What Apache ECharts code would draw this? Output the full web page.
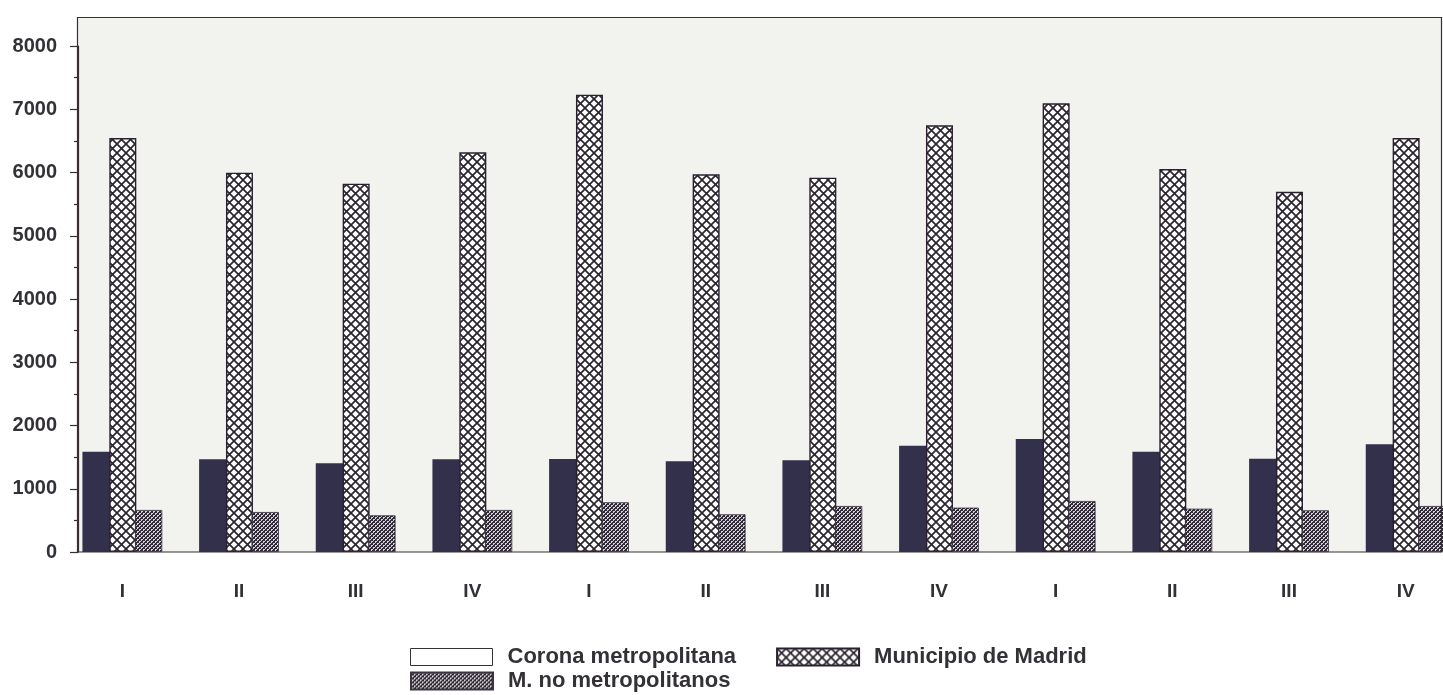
<!DOCTYPE html>
<html>
<head>
<meta charset="utf-8">
<script src="https://cdn.jsdelivr.net/npm/echarts@6/dist/echarts.min.js"></script>
<style>
html,body{margin:0;padding:0;background:#fff;}
#chart{width:1443px;height:695px;}
</style>
</head>
<body>
<div id="chart"></div>
<script>
// ---- data ----
const quarters = ['I','II','III','IV','I','II','III','IV','I','II','III','IV'];
const seriesNames = ['Corona metropolitana','Municipio de Madrid','M. no metropolitanos'];
const corona  = [1586,1466,1402,1466,1470,1434,1450,1681,1787,1586,1475,1703];
const madrid  = [6545,5997,5823,6320,7230,5972,5918,6746,7094,6055,5696,6545];
const noMetro = [664,632,580,664,786,596,727,701,806,685,659,727];
const yTicks = { min: 0, max: 8000, interval: 1000 };

// ---- patterns ----
function crossPattern(){
  const s = 9, c = document.createElement('canvas');
  c.width = s; c.height = s;
  const g = c.getContext('2d');
  g.fillStyle = '#fdfdfb'; g.fillRect(0,0,s,s);
  g.strokeStyle = '#2a2530'; g.lineWidth = 1.7;
  g.beginPath();
  g.moveTo(-1,-1); g.lineTo(s+1,s+1);
  g.moveTo(s+1,-1); g.lineTo(-1,s+1);
  g.stroke();
  return c;
}
function dotPattern(){
  const s = 4, c = document.createElement('canvas');
  c.width = s; c.height = s;
  const g = c.getContext('2d');
  g.fillStyle = '#d8d6d6'; g.fillRect(0,0,s,s);
  g.fillStyle = '#2f2a36';
  for (let i = 0; i < s; i++){ g.fillRect(i,i,1,1); g.fillRect(s-1-i,i,1,1); }
  g.fillRect(0,2,1,1); g.fillRect(2,0,1,1);
  return c;
}

const chart = echarts.init(document.getElementById('chart'), null, {renderer:'canvas'});
const textColor = '#333036';
const frameColor = '#3a2e30';
const fontFam = 'Liberation Sans, Arial, sans-serif';

const option = {
  animation: false,
  backgroundColor: '#ffffff',
  grid: { left: 64, top: 46, width: 1400, bottom: 143, containLabel: false, outerBoundsMode: 'none' },
  graphic: [
    { type: 'rect', z: -10, silent: true,
      shape: { x: 78, y: 18, width: 1363, height: 534 },
      style: { fill: '#f2f2ef', stroke: null } },
    { type: 'rect', z: 100, silent: true,
      shape: { x: 77.5, y: 17.5, width: 1364, height: 534.5 },
      style: { fill: null, stroke: frameColor, lineWidth: 1.2 } }
  ],
  legend: [
    { data: [
        { name: seriesNames[0], itemStyle: { color: '#ffffff', borderColor: '#333', borderWidth: 1 } },
        { name: seriesNames[1] }
      ],
      left: 410, top: 646, orient: 'horizontal', icon: 'rect', padding: 0,
      itemWidth: 82, itemHeight: 17, itemGap: 40,
      textStyle: { fontFamily: fontFam, fontWeight: 'bold', fontSize: 22, color: textColor, padding: [0,0,0,10] }
    },
    { data: [ { name: seriesNames[2] } ],
      left: 410, top: 670, orient: 'horizontal', icon: 'rect', padding: 0,
      itemWidth: 82, itemHeight: 17,
      textStyle: { fontFamily: fontFam, fontWeight: 'bold', fontSize: 22, color: textColor, padding: [0,0,0,10] }
    }
  ],
  xAxis: {
    type: 'category',
    data: quarters,
    axisLine: { show: false },
    axisTick: { show: false },
    axisLabel: { margin: 30, fontFamily: fontFam, fontWeight: 'bold', fontSize: 19, color: textColor }
  },
  yAxis: {
    type: 'value',
    min: yTicks.min, max: yTicks.max, interval: yTicks.interval,
    offset: -14,
    axisLine: { show: true, lineStyle: { color: frameColor, width: 1.2 } },
    axisTick: { show: true, length: 8, lineStyle: { color: frameColor, width: 1.2 } },
    minorTick: { show: true, splitNumber: 2, length: 4, lineStyle: { color: frameColor, width: 1.2 } },
    splitLine: { show: false },
    axisLabel: { margin: 21, fontFamily: fontFam, fontWeight: 'bold', fontSize: 20, color: textColor,
                 formatter: v => String(v) }
  },
  series: [
    { name: seriesNames[0], type: 'bar', data: corona, barWidth: 28, barGap: '-4%',
      itemStyle: { color: '#32304a' } },
    { name: seriesNames[1], type: 'bar', data: madrid, barWidth: 27, barGap: '-4%',
      itemStyle: { color: { image: crossPattern(), repeat: 'repeat' }, borderColor: '#2a2030', borderWidth: 1.4 } },
    { name: seriesNames[2], type: 'bar', data: noMetro, barWidth: 27, barGap: '-4%',
      itemStyle: { color: { image: dotPattern(), repeat: 'repeat' }, borderColor: '#3a3440', borderWidth: 0.8 } }
  ]
};
chart.setOption(option);
</script>
</body>
</html>
